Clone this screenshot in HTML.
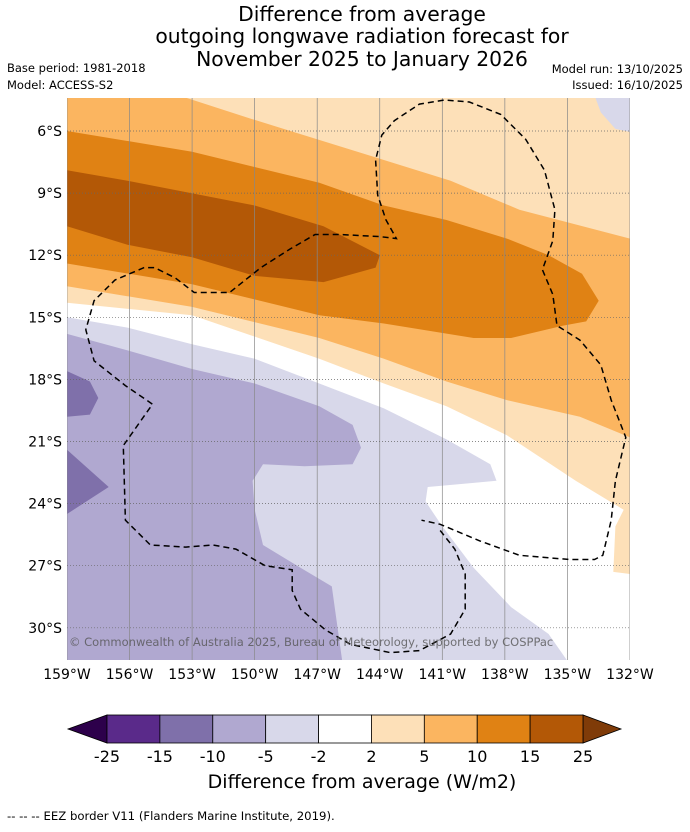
<!DOCTYPE html>
<html><head><meta charset="utf-8"><style>
body{margin:0;background:#fff;width:690px;height:827px;overflow:hidden;font-family:"Liberation Sans","DejaVu Sans",sans-serif}
</style></head><body>
<svg id="s" width="690" height="827" xmlns="http://www.w3.org/2000/svg" font-family="DejaVu Sans, Liberation Sans, sans-serif">
<g font-size="20.3" text-anchor="middle" fill="#000">
<text x="362" y="21">Difference from average</text>
<text x="362" y="43">outgoing longwave radiation forecast for</text>
<text x="362" y="66">November 2025 to January 2026</text>
</g>
<g font-size="11.5" fill="#000">
<text x="7" y="72">Base period: 1981-2018</text>
<text x="7" y="89">Model: ACCESS-S2</text>
<text x="683" y="73" text-anchor="end">Model run: 13/10/2025</text>
<text x="683" y="89" text-anchor="end">Issued: 16/10/2025</text>
</g>
<defs><clipPath id="mc"><rect x="67" y="98" width="563" height="562"/></clipPath></defs>
<g id="map" clip-path="url(#mc)"></g>
<g id="axes"></g>
<g id="cbar"></g>
<text x="362" y="788" font-size="19" text-anchor="middle">Difference from average (W/m2)</text>
<text x="7" y="820" font-size="11.7">--  --  -- EEZ border V11 (Flanders Marine Institute, 2019).</text>
</svg>
<script>
const lonTicks=[-159,-156,-153,-150,-147,-144,-141,-138,-135,-132];
const latTicks=[-6,-9,-12,-15,-18,-21,-24,-27,-30];
const cbLevels=[-25,-15,-10,-5,-2,2,5,10,15,25];
const cbColors=["#5a2a8a","#7f70aa","#b0a8d0","#d8d8ea","#ffffff","#fde0b8","#fbb560","#e08214","#b35806"];
const cbLow="#2d004b", cbHigh="#7f3b08";
// contour regions [lon,lat]
const peach=[[-159,-4],[-132,-4],[-132,-27.4],[-132.8,-27.3],[-132.7,-25.1],[-132.3,-24.3],[-134.6,-22.9],[-137.9,-20.7],[-140.8,-19.3],[-143.8,-18.2],[-146.9,-17.0],[-153.0,-14.9],[-159,-14.3]];
const lavTop=[[-133.8,-4],[-132,-4],[-132,-6.05],[-132.7,-5.9],[-133.4,-5.1]];
const orange5=[[-159,-4],[-154.5,-4],[-150.2,-5.4],[-143.8,-7.4],[-140.6,-8.4],[-137.3,-9.8],[-132,-11.2],[-132,-20.8],[-134.4,-19.8],[-137.9,-19.0],[-140.8,-18.1],[-143.8,-17.0],[-146.9,-16.0],[-153.0,-14.5],[-159,-13.5]];
const orange10=[[-159,-6.0],[-153.0,-7.0],[-146.9,-8.5],[-143.8,-9.6],[-140.8,-10.3],[-137.9,-11.2],[-135.9,-12.0],[-134.3,-12.9],[-133.5,-14.2],[-134.1,-15.2],[-135.2,-15.4],[-137.7,-16.0],[-139.5,-16.0],[-143.8,-15.3],[-146.9,-14.9],[-153.0,-13.4],[-159,-12.4]];
const orange15=[[-159,-7.9],[-156.1,-8.4],[-150.0,-9.6],[-146.7,-10.6],[-144.0,-12.0],[-144.2,-12.6],[-146.7,-13.3],[-150.0,-13.0],[-153.0,-12.1],[-156.1,-11.5],[-159,-10.6]];
const lav2=[[-159,-15.0],[-156.1,-15.5],[-153.0,-16.3],[-150.0,-17.0],[-146.9,-18.2],[-143.8,-19.4],[-140.8,-20.9],[-138.7,-22.1],[-138.4,-22.9],[-139.5,-23.0],[-141.7,-23.2],[-141.8,-23.9],[-141.0,-25.1],[-139.5,-27.1],[-137.7,-29.0],[-135.9,-30.3],[-135.0,-31.6],[-135,-33],[-159,-33]];
const purp5=[[-159,-15.8],[-156.1,-16.6],[-153.0,-17.5],[-150.0,-18.2],[-146.9,-19.3],[-145.3,-20.2],[-144.9,-21.3],[-145.3,-22.1],[-147.6,-22.2],[-149.6,-22.1],[-150.1,-22.9],[-150.0,-24.3],[-149.6,-26.0],[-147.8,-27.1],[-146.3,-28.0],[-145.8,-31.6],[-145.8,-33],[-159,-33]];
const purp10a=[[-159,-17.6],[-157.9,-18.1],[-157.5,-18.9],[-157.9,-19.7],[-159,-19.8]];
const purp10b=[[-159,-21.4],[-157.0,-23.2],[-159,-24.5]];
const eez=[[-141.1,-25.3],[-140.4,-26.2],[-139.9,-27.4],[-139.9,-29.1],[-140.6,-30.3],[-142.1,-31.1],[-143.5,-31.2],[-145.4,-30.8],[-146.6,-30.1],[-147.8,-29.1],[-148.2,-28.2],[-148.2,-27.2],[-149.5,-27.0],[-150.9,-26.2],[-152.0,-26.0],[-153.3,-26.1],[-155.0,-26.0],[-156.2,-24.8],[-156.3,-21.2],[-154.9,-19.2],[-156.2,-18.3],[-157.7,-17.1],[-158.1,-15.6],[-157.7,-14.2],[-156.7,-13.2],[-155.3,-12.6],[-154.8,-12.6],[-153.8,-13.1],[-152.9,-13.8],[-151.2,-13.8],[-149.7,-12.6],[-148.3,-11.7],[-147.1,-11.0],[-145.9,-11.0],[-144.0,-11.1],[-143.2,-11.2],[-143.7,-10.3],[-144.1,-9.1],[-144.2,-7.4],[-143.9,-6.2],[-143.3,-5.5],[-142.1,-4.7],[-140.9,-4.5],[-139.7,-4.6],[-138.2,-5.2],[-137.0,-6.4],[-136.1,-7.9],[-135.6,-9.8],[-135.7,-11.3],[-136.2,-12.7],[-135.7,-13.9],[-135.5,-15.4],[-134.4,-16.1],[-133.4,-17.3],[-132.9,-19.0],[-132.2,-20.8],[-132.7,-22.9],[-132.9,-24.8],[-133.3,-26.5],[-133.7,-26.7],[-134.9,-26.7],[-137.3,-26.5],[-139.2,-25.8],[-141.1,-25.0],[-142.0,-24.8]];

const NS="http://www.w3.org/2000/svg";
const X=lon=>67+(lon+159)*20.85;
const Y=lat=>131+(-lat-6)*20.7;
function mk(tag,parent,attrs){const e=document.createElementNS(NS,tag);for(const k in attrs)e.setAttribute(k,attrs[k]);parent.appendChild(e);return e;}
const pts=a=>a.map(p=>X(p[0]).toFixed(1)+","+Y(p[1]).toFixed(1)).join(" ");
const map=document.getElementById('map');
const layers=[[lav2,"#d8d8ea","contour-minus2-to-minus5"],[purp5,"#b0a8d0","contour-minus5-to-minus10"],[purp10a,"#7f70aa","contour-minus10-to-minus15-a"],[purp10b,"#7f70aa","contour-minus10-to-minus15-b"],[peach,"#fde0b8","contour-2-to-5"],[lavTop,"#d8d8ea","contour-minus2-top"],[orange5,"#fbb560","contour-5-to-10"],[orange10,"#e08214","contour-10-to-15"],[orange15,"#b35806","contour-15-to-25"]];
layers.forEach(l=>{const e=mk('polygon',map,{points:pts(l[0]),fill:l[1]});

});
const ax=document.getElementById('axes');
lonTicks.forEach(t=>{const l=mk('line',map,{x1:X(t),x2:X(t),y1:98,y2:660,stroke:"#888","stroke-width":0.7});


const tx=mk('text',ax,{x:X(t),y:679,"font-size":14,"text-anchor":"middle"});tx.textContent=Math.abs(t)+"°W";

});
latTicks.forEach(t=>{const l=mk('line',map,{x1:67,x2:630,y1:Y(t),y2:Y(t),stroke:"#666","stroke-width":0.7,"stroke-dasharray":"1,2"});


const tx=mk('text',ax,{x:62,y:Y(t)+5,"font-size":14,"text-anchor":"end"});tx.textContent=Math.abs(t)+"°S";

});
const ez=mk('polyline',map,{points:pts(eez),fill:"none",stroke:"#000","stroke-width":1.5,"stroke-dasharray":"6,4"});


const cp=mk('text',map,{x:69,y:646,"font-size":11.5,fill:"#555","fill-opacity":0.8});cp.textContent="© Commonwealth of Australia 2025, Bureau of Meteorology, supported by COSPPac";


const cb=document.getElementById('cbar');
const cx0=107,cx1=583,cy=715,ch=28,w=(cx1-cx0)/cbColors.length;
const lt=mk('polygon',cb,{points:`${cx0},${cy} ${cx0},${cy+ch} 68,${cy+ch/2}`,fill:cbLow,stroke:"#000","stroke-width":0.8});


const rt=mk('polygon',cb,{points:`${cx1},${cy} ${cx1},${cy+ch} 621,${cy+ch/2}`,fill:cbHigh,stroke:"#000","stroke-width":0.8});


cbColors.forEach((c,i)=>{const r=mk('rect',cb,{x:cx0+i*w,y:cy,width:w,height:ch,fill:c,stroke:"#000","stroke-width":0.8});

});
cbLevels.forEach((v,i)=>{const t=mk('text',cb,{x:cx0+i*w,y:762,"font-size":16,"text-anchor":"middle"});t.textContent=v;

});
</script>
</body></html>
